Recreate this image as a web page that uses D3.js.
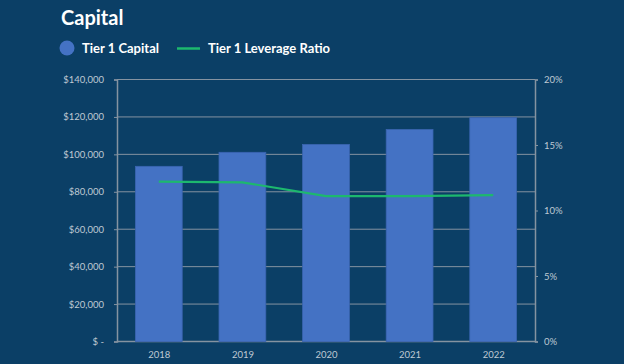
<!DOCTYPE html>
<html><head><meta charset="utf-8">
<script src="https://cdn.jsdelivr.net/npm/d3@7"></script>
<style>
html,body{margin:0;padding:0;background:#0b3f66;}
svg{display:block;font-family:Lato,"Open Sans",sans-serif;}
</style></head>
<body>
<svg id="c" width="624" height="364"></svg>
<script>
const years = ["2018","2019","2020","2021","2022"];
const tier1Capital = [93600, 101100, 105300, 113300, 119600];
const leverageRatio = [12.2, 12.15, 11.1, 11.1, 11.17];
const leftTicks = [0,20000,40000,60000,80000,100000,120000,140000];
const rightTicks = [0,5,10,15,20];

const svg = d3.select("#c");
svg.append("rect").attr("width",624).attr("height",364).attr("fill","#0b3f66");
const m = {l:117, r:535, t:79.5, b:341.5};
const x = d3.scaleBand().domain(years).range([m.l,m.r]).paddingInner(0.44).paddingOuter(0.22);
const xc = d3.scalePoint().domain(years).range([m.l,m.r]).padding(0.5);
const y = d3.scaleLinear().domain([0,140000]).range([m.b,m.t]);
const y2 = d3.scaleLinear().domain([0,20]).range([m.b,m.t]);
const grid="#8593a1", txt="#bfc9d3";

// gridlines
svg.append("g").selectAll("line").data(leftTicks).join("line")
  .attr("x1",m.l).attr("x2",m.r).attr("y1",d=>y(d)).attr("y2",d=>y(d))
  .attr("stroke",grid).attr("stroke-width",1);

// axes
const la = svg.append("g").attr("transform",`translate(${m.l},0)`)
  .call(d3.axisLeft(y).tickValues(leftTicks).tickSize(3).tickPadding(10)
    .tickFormat(d=> d===0 ? "$ -" : "$"+d3.format(",")(d)));
const ra = svg.append("g").attr("transform",`translate(${m.r},0)`)
  .call(d3.axisRight(y2).tickValues(rightTicks).tickSize(3).tickPadding(6).tickFormat(d=>d+"%"));
const ba = svg.append("g").attr("transform",`translate(0,${m.b})`)
  .call(d3.axisBottom(xc).tickSize(0).tickPadding(10));
[la,ra,ba].forEach(g=>{
  g.selectAll("path").attr("stroke",grid).attr("stroke-width",1.5);
  g.selectAll("line").attr("stroke",grid);
  g.selectAll("text").attr("fill",txt).attr("font-size",9.5).attr("font-family","Lato, sans-serif");
});
ba.select("path").remove();
svg.append("line").attr("x1",m.l).attr("x2",m.r).attr("y1",m.b).attr("y2",m.b).attr("stroke",grid).attr("stroke-width",1.5);

// bars
svg.append("g").selectAll("rect").data(years).join("rect")
  .attr("x",d=>x(d)).attr("width",x.bandwidth())
  .attr("y",(d,i)=>y(tier1Capital[i])).attr("height",(d,i)=>m.b-y(tier1Capital[i]))
  .attr("fill","#4472c4").attr("stroke","#3a64b0").attr("stroke-width",0.8);

// line
svg.append("path").datum(years)
  .attr("d",d3.line().x(d=>xc(d)).y((d,i)=>y2(leverageRatio[i])))
  .attr("fill","none").attr("stroke","#1db86e").attr("stroke-width",2.2);

// title & legend
svg.append("text").attr("x",61).attr("y",25).text("Capital")
  .attr("fill","#ffffff").attr("font-size",20).attr("font-weight",700).attr("font-family","Lato, sans-serif");
svg.append("circle").attr("cx",67).attr("cy",48).attr("r",7.5).attr("fill","#4472c4");
svg.append("text").attr("x",82).attr("y",53).text("Tier 1 Capital")
  .attr("fill","#ffffff").attr("font-size",13).attr("font-weight",700).attr("font-family","Lato, sans-serif");
svg.append("line").attr("x1",177).attr("x2",200).attr("y1",48.5).attr("y2",48.5)
  .attr("stroke","#1db86e").attr("stroke-width",2.5);
svg.append("text").attr("x",208).attr("y",53).text("Tier 1 Leverage Ratio")
  .attr("fill","#ffffff").attr("font-size",13).attr("font-weight",700).attr("font-family","Lato, sans-serif");
</script>
</body></html>
